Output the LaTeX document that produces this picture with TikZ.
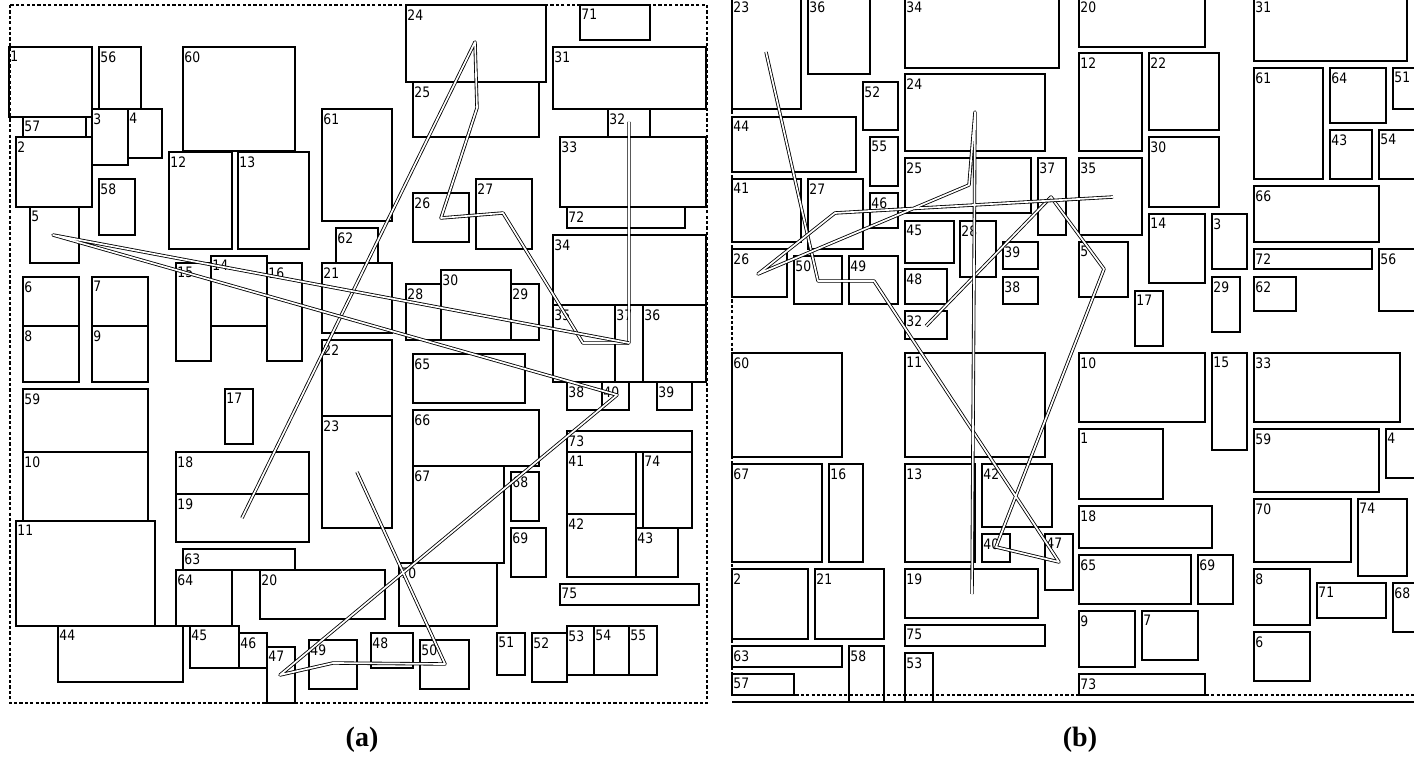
\documentclass[tikz,border=0pt]{standalone}
\usepackage{fontspec}
\newfontfamily\numfont[FakeStretch=0.86]{DejaVu Sans}
\newfontfamily\capfont{Liberation Serif}
\usetikzlibrary{positioning}
\tikzset{rect/.style={draw,line width=0.6pt},
 num/.style={font=\numfont\fontsize{7.2}{8}\selectfont,anchor=north west,inner sep=0pt,xshift=0.5pt,yshift=-2pt},
 frm/.style={draw,dash pattern=on 1.6pt off 1.1pt,line width=0.6pt},
 tour/.style={draw,double,line width=0.42pt,double distance=0.85pt,line join=round},
 panelcap/.style={font=\capfont\fontsize{14}{16}\selectfont\bfseries,inner sep=0pt}}
% \blk{panel}{number}{x1}{y1}{x2}{y2}
\newcommand{\blk}[6]{\draw[rect](#3,#4)rectangle(#5,#6);\node[num](#1#2)at(#3,#4){#2};}

\begin{document}
\begin{tikzpicture}[x=0.5pt,y=-0.5pt]
\useasboundingbox (0,0) rectangle (1414,770);
\clip (0,0) rectangle (1414,770);
% (a)
\draw[frm](10,5)rectangle(707,703);
\blk{a}{1}{9}{47}{92}{117}\blk{a}{56}{99}{47}{141}{109}\blk{a}{60}{183}{47}{295}{151}\blk{a}{24}{406}{5}{546}{82}
\blk{a}{71}{580}{5}{650}{40}\blk{a}{31}{553}{47}{706}{109}\blk{a}{25}{413}{82}{539}{137}\blk{a}{57}{23}{117}{86}{137}
\blk{a}{3}{92}{109}{128}{165}\blk{a}{4}{128}{109}{162}{158}\blk{a}{2}{16}{137}{92}{207}\blk{a}{61}{322}{109}{392}{221}
\blk{a}{32}{608}{109}{650}{137}\blk{a}{33}{560}{137}{706}{207}\blk{a}{12}{169}{152}{232}{249}\blk{a}{13}{238}{152}{309}{249}
\blk{a}{58}{99}{179}{135}{235}\blk{a}{5}{30}{207}{79}{263}\blk{a}{26}{413}{193}{469}{242}\blk{a}{27}{476}{179}{532}{249}
\blk{a}{72}{567}{207}{685}{228}\blk{a}{62}{336}{228}{378}{263}\blk{a}{34}{553}{235}{706}{305}\blk{a}{14}{211}{256}{267}{326}
\blk{a}{15}{176}{263}{211}{361}\blk{a}{16}{267}{263}{302}{361}\blk{a}{21}{322}{263}{392}{333}\blk{a}{6}{23}{277}{79}{326}
\blk{a}{7}{92}{277}{148}{326}\blk{a}{8}{23}{326}{79}{382}\blk{a}{9}{92}{326}{148}{382}\blk{a}{28}{406}{284}{441}{340}
\blk{a}{30}{441}{270}{511}{340}\blk{a}{29}{511}{284}{539}{340}\blk{a}{35}{553}{305}{615}{382}\blk{a}{37}{615}{305}{643}{382}
\blk{a}{36}{643}{305}{706}{382}\blk{a}{22}{322}{340}{392}{416}\blk{a}{65}{413}{354}{525}{403}\blk{a}{38}{567}{382}{602}{410}
\blk{a}{40}{602}{382}{629}{410}\blk{a}{39}{657}{382}{692}{410}\blk{a}{59}{23}{389}{148}{452}\blk{a}{17}{225}{389}{253}{444}
\blk{a}{66}{413}{410}{539}{466}\blk{a}{23}{322}{416}{392}{528}\blk{a}{73}{567}{431}{692}{452}\blk{a}{10}{23}{452}{148}{521}
\blk{a}{18}{176}{452}{309}{494}\blk{a}{41}{567}{452}{636}{514}\blk{a}{74}{643}{452}{692}{528}\blk{a}{67}{413}{466}{504}{563}
\blk{a}{68}{511}{472}{539}{521}\blk{a}{19}{176}{494}{309}{542}\blk{a}{42}{567}{514}{636}{577}\blk{a}{43}{636}{528}{678}{577}
\blk{a}{11}{16}{521}{155}{626}\blk{a}{69}{511}{528}{546}{577}\blk{a}{63}{183}{549}{295}{570}\blk{a}{70}{399}{563}{497}{626}
\blk{a}{64}{176}{570}{232}{626}\blk{a}{20}{260}{570}{385}{619}\blk{a}{75}{560}{584}{699}{605}\blk{a}{44}{58}{626}{183}{682}
\blk{a}{45}{190}{626}{239}{668}\blk{a}{46}{239}{633}{267}{668}\blk{a}{53}{567}{626}{594}{675}\blk{a}{54}{594}{626}{629}{675}
\blk{a}{55}{629}{626}{657}{675}\blk{a}{48}{371}{633}{413}{668}\blk{a}{51}{497}{633}{525}{675}\blk{a}{52}{532}{633}{567}{682}
\blk{a}{49}{309}{640}{357}{689}\blk{a}{50}{420}{640}{469}{689}\blk{a}{47}{267}{647}{295}{703}
\coordinate(t19)at(242,518);\coordinate(t24)at(475,42);\coordinate(t25)at(477,108);\coordinate(t26)at(441,218);
\coordinate(t27)at(503,213);\coordinate(t35)at(583,343);\coordinate(t37)at(629,343);\coordinate(t32)at(629,122);
\coordinate(t23)at(357,472);\coordinate(t50)at(445,664);\coordinate(t49)at(333,663);\coordinate(t47)at(280,675);
\coordinate(t40)at(617,395);\coordinate(t5)at(53,235);
\draw[tour](t19)--(t24)--(t25)--(t26)--(t27)--(t35)--(t37)--(t32);
\draw[tour](t23)--(t50)--(t49)--(t47)--(t40)--(t5)--(t37);
% (b)
\draw[frm](732,-3)--(732,695)--(1420,695);\draw[line width=0.9pt](732,702)--(1420,702);
\blk{b}{23}{732}{-3}{801}{109}\blk{b}{36}{808}{-3}{870}{74}\blk{b}{34}{905}{-3}{1059}{68}\blk{b}{20}{1079}{-3}{1205}{47}
\blk{b}{31}{1254}{-3}{1407}{61}\blk{b}{12}{1079}{53}{1142}{151}\blk{b}{22}{1149}{53}{1219}{130}\blk{b}{61}{1254}{68}{1323}{179}
\blk{b}{64}{1330}{68}{1386}{123}\blk{b}{51}{1393}{68}{1420}{109}\blk{b}{24}{905}{74}{1045}{151}\blk{b}{52}{863}{82}{898}{130}
\blk{b}{44}{732}{117}{856}{172}\blk{b}{43}{1330}{130}{1372}{179}\blk{b}{54}{1379}{130}{1420}{179}\blk{b}{55}{870}{137}{898}{186}
\blk{b}{30}{1149}{137}{1219}{207}\blk{b}{25}{905}{158}{1031}{213}\blk{b}{37}{1038}{158}{1066}{235}\blk{b}{35}{1079}{158}{1142}{235}
\blk{b}{41}{732}{179}{801}{242}\blk{b}{27}{808}{179}{863}{249}\blk{b}{66}{1254}{186}{1379}{242}\blk{b}{46}{870}{193}{898}{228}
\blk{b}{14}{1149}{214}{1205}{283}\blk{b}{3}{1212}{214}{1247}{269}\blk{b}{45}{905}{221}{954}{263}\blk{b}{28}{960}{221}{996}{277}
\blk{b}{39}{1003}{242}{1038}{269}\blk{b}{5}{1079}{242}{1128}{297}\blk{b}{26}{732}{249}{787}{297}\blk{b}{72}{1254}{249}{1372}{269}
\blk{b}{56}{1379}{249}{1420}{311}\blk{b}{50}{794}{256}{842}{304}\blk{b}{49}{849}{256}{898}{304}\blk{b}{48}{905}{269}{947}{304}
\blk{b}{38}{1003}{277}{1038}{304}\blk{b}{29}{1212}{277}{1240}{332}\blk{b}{62}{1254}{277}{1296}{311}\blk{b}{17}{1135}{291}{1163}{346}
\blk{b}{32}{905}{311}{947}{339}\blk{b}{60}{732}{353}{842}{457}\blk{b}{11}{905}{353}{1045}{457}\blk{b}{10}{1079}{353}{1205}{422}
\blk{b}{15}{1212}{353}{1247}{450}\blk{b}{33}{1254}{353}{1400}{422}\blk{b}{1}{1079}{429}{1163}{499}\blk{b}{59}{1254}{429}{1379}{492}
\blk{b}{4}{1386}{429}{1420}{478}\blk{b}{67}{732}{464}{822}{562}\blk{b}{16}{829}{464}{863}{562}\blk{b}{13}{905}{464}{975}{562}
\blk{b}{42}{982}{464}{1052}{527}\blk{b}{70}{1254}{499}{1351}{562}\blk{b}{74}{1358}{499}{1407}{576}\blk{b}{18}{1079}{506}{1212}{548}
\blk{b}{40}{982}{534}{1010}{562}\blk{b}{47}{1045}{534}{1073}{590}\blk{b}{65}{1079}{555}{1191}{604}\blk{b}{69}{1198}{555}{1233}{604}
\blk{b}{2}{732}{569}{808}{639}\blk{b}{21}{815}{569}{884}{639}\blk{b}{19}{905}{569}{1038}{618}\blk{b}{8}{1254}{569}{1310}{625}
\blk{b}{71}{1317}{583}{1386}{618}\blk{b}{68}{1393}{583}{1420}{632}\blk{b}{9}{1079}{611}{1135}{667}\blk{b}{7}{1142}{611}{1198}{660}
\blk{b}{75}{905}{625}{1045}{646}\blk{b}{6}{1254}{632}{1310}{681}\blk{b}{63}{732}{646}{842}{667}\blk{b}{58}{849}{646}{884}{702}
\blk{b}{53}{905}{653}{933}{702}\blk{b}{57}{732}{674}{794}{695}\blk{b}{73}{1079}{674}{1205}{695}
\coordinate(s23)at(766,52);\coordinate(s50)at(818,281);\coordinate(s49)at(874,281);\coordinate(s47)at(1059,562);
\coordinate(s40)at(996,547);\coordinate(s5)at(1104,269);\coordinate(s37)at(1051,197);\coordinate(s32)at(926,326);
\coordinate(s19)at(972,594);\coordinate(s24)at(975,112);\coordinate(s25)at(969,185);\coordinate(s26)at(758,274);
\coordinate(s27)at(835,213);\coordinate(s35)at(1113,197);
\draw[tour](s23)--(s50)--(s49)--(s47)--(s40)--(s5)--(s37)--(s32);
\draw[tour](s19)--(s24)--(s25)--(s26)--(s27)--(s35);
\node[panelcap](capa)at(362,740){(a)};\node[panelcap](capb)at(1080,740){(b)};
\end{tikzpicture}
\end{document}
